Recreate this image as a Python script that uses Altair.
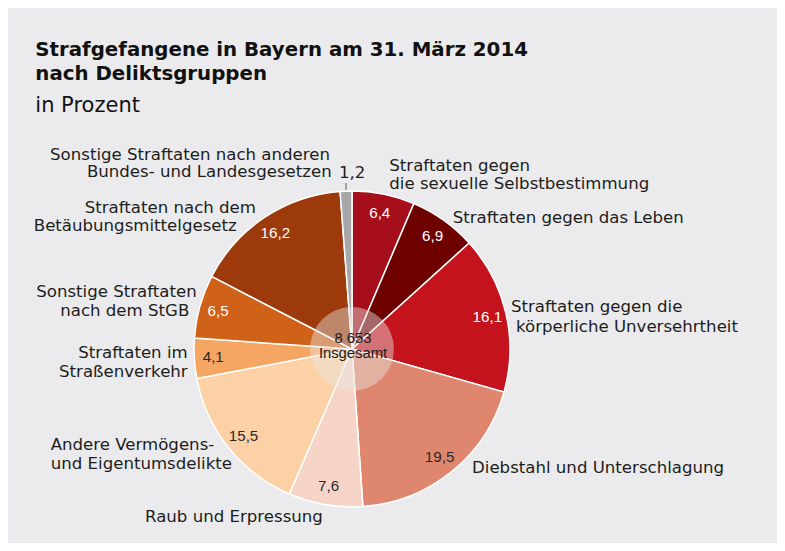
import altair as alt
import pandas as pd

# ---------------- data ----------------
category_lines = [
    ["Straftaten gegen", "die sexuelle Selbstbestimmung"],
    ["Straftaten gegen das Leben"],
    ["Straftaten gegen die", "körperliche Unversehrtheit"],
    ["Diebstahl und Unterschlagung"],
    ["Raub und Erpressung"],
    ["Andere Vermögens-", "und Eigentumsdelikte"],
    ["Straftaten im", "Straßenverkehr"],
    ["Sonstige Straftaten", "nach dem StGB"],
    ["Straftaten nach dem", "Betäubungsmittelgesetz"],
    ["Sonstige Straftaten nach anderen", "Bundes- und Landesgesetzen"],
]
categories = [" ".join(l) for l in category_lines]
shares = [6.4, 6.9, 16.1, 19.5, 7.6, 15.5, 4.1, 6.5, 16.2, 1.2]
total_text = "8 653"
total_caption = "Insgesamt"
title_lines = ["Strafgefangene in Bayern am 31. März 2014", "nach Deliktsgruppen"]
subtitle = "in Prozent"

# ---------------- style ----------------
palette = ["#a50e1a", "#6e0000", "#c4131d", "#de876e", "#f6d5c8",
           "#fdd1a6", "#f5a663", "#cf6218", "#9d3a0c", "#a8a8aa"]
light_slices = [categories[i] for i in (3, 4, 5, 6)]
BG = "#ebebed"
TXT = "#1d1d1b"
LABEL_FONT = "DejaVu Sans"
NUM_FONT = "Liberation Sans"

W, H = 769, 535
CX, CY, R = 344, 341, 158
HUB_D = 84  # hub diameter in px

# per-line label anchors (x, y baseline, align) in chart pixels
label_anchor = [
    [(381.3, 162.7, "left"), (381.3, 181.3, "left")],
    [(444.7, 215.3, "left")],
    [(503, 304.3, "left"), (508, 323.7, "left")],
    [(464, 464.7, "left")],
    [(137, 513.7, "left")],
    [(42.7, 442, "left"), (42.7, 461.3, "left")],
    [(179.7, 350.3, "right"), (179.7, 369.3, "right")],
    [(188.7, 288.7, "right"), (181.3, 307.7, "right")],
    [(248, 204.7, "right"), (228.7, 223, "right")],
    [(322, 152, "right"), (323.7, 169.3, "right")],
]

def fmt(v):
    return f"{v:.1f}".replace(".", ",")

df = pd.DataFrame({
    "cat": categories,
    "share": shares,
    "idx": list(range(len(categories))),
    "label": [fmt(v) for v in shares],
})
df["inlabel"] = [fmt(v) if v >= 2 else "" for v in shares]

rows = []
for lines, anchors in zip(category_lines, label_anchor):
    for t, (x, y, a) in zip(lines, anchors):
        rows.append({"text": t, "x": x, "y": y, "align": a})
# small slice value shown outside next to its label
rows.append({"text": fmt(shares[-1]), "x": 331, "y": 169.7, "align": "left"})
ann = pd.DataFrame(rows)

theta = alt.Theta("share:Q", stack=True)
order = alt.Order("idx:Q")

pie = alt.Chart(df).mark_arc(outerRadius=R, stroke="white", strokeWidth=1.5).encode(
    theta=theta, order=order,
    color=alt.Color("cat:N", scale=alt.Scale(domain=categories, range=palette), legend=None),
    x=alt.value(CX), y=alt.value(CY),
)

values = alt.Chart(df).mark_text(radius=139, font=NUM_FONT, fontSize=15.2,
                                 baseline="middle", align="center").encode(
    theta=theta, order=order,
    text="inlabel:N",
    color=alt.condition(alt.FieldOneOfPredicate(field="cat", oneOf=light_slices),
                        alt.value("#2a2a2a"), alt.value("white")),
    x=alt.value(CX), y=alt.value(CY),
)

hub = alt.Chart(pd.DataFrame({"k": [0]})).mark_circle(
    size=HUB_D * HUB_D, color="#e6e4e0", opacity=0.45
).encode(x=alt.value(CX), y=alt.value(CY))

center_txt = alt.Chart(pd.DataFrame({"t": [total_text, total_caption], "y": [335.3, 350.3]})).mark_text(
    font=NUM_FONT, fontSize=14.8, color="#1a1a1a", align="center", baseline="alphabetic"
).encode(x=alt.value(CX + 1), y=alt.Y("y:Q", scale=None), text="t:N")

left_lbl = alt.Chart(ann[ann["align"] == "left"]).mark_text(
    font=LABEL_FONT, fontSize=16.6, color=TXT, align="left", baseline="alphabetic"
).encode(x=alt.X("x:Q", scale=None), y=alt.Y("y:Q", scale=None), text="text:N")

right_lbl = alt.Chart(ann[ann["align"] == "right"]).mark_text(
    font=LABEL_FONT, fontSize=16.6, color=TXT, align="right", baseline="alphabetic"
).encode(x=alt.X("x:Q", scale=None), y=alt.Y("y:Q", scale=None), text="text:N")

tick = alt.Chart(pd.DataFrame({"k": [0]})).mark_rule(color="#555555", strokeWidth=1).encode(
    x=alt.value(338), y=alt.value(175), y2=alt.value(182)
)

title = alt.Chart(pd.DataFrame({"t": title_lines, "y": [48, 72]})).mark_text(
    font=LABEL_FONT, fontSize=19.8, fontWeight="bold", color="#111111",
    align="left", baseline="alphabetic"
).encode(x=alt.value(27.3), y=alt.Y("y:Q", scale=None), text="t:N")

sub = alt.Chart(pd.DataFrame({"t": [subtitle], "y": [103.7]})).mark_text(
    font=LABEL_FONT, fontSize=21, color="#111111", align="left", baseline="alphabetic"
).encode(x=alt.value(27.3), y=alt.Y("y:Q", scale=None), text="t:N")

chart = alt.layer(pie, hub, values, center_txt, left_lbl, right_lbl, tick, title, sub).properties(
    width=W, height=H, autosize="none", padding=0, background=BG
).configure_view(strokeWidth=0)

chart.save("out.html", embed_options={"renderer": "svg", "actions": False})
